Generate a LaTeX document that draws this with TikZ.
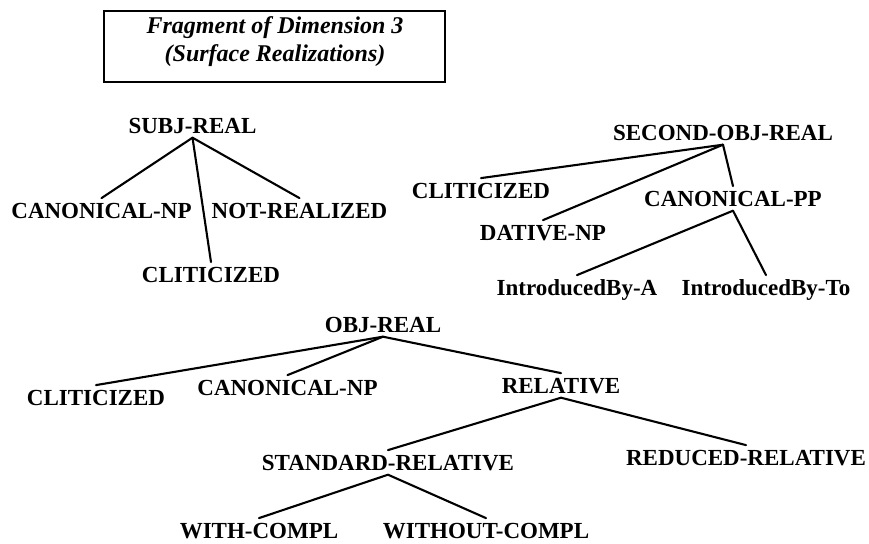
\documentclass[tikz,border=0pt]{standalone}
\usepackage{fontspec}
\setmainfont{Liberation Serif}
\begin{document}
\begin{tikzpicture}[x=1pt,y=-1pt,
  treenode/.style={font=\bfseries\fontsize{23}{27}\selectfont,
    text height=15.2pt, text depth=0pt, inner xsep=0pt, inner ysep=4.5pt,
    anchor=base},
  branch/.style={line width=2.1pt, line cap=round},
  titlebox/.style={draw, line width=1.6pt, inner sep=0pt}]
\useasboundingbox (0,0) rectangle (869,543);

% title box
\node[titlebox, minimum width=341pt, minimum height=71pt] (title) at (274.5,46.5) {};
\node[font=\bfseries\itshape\fontsize{24}{28}\selectfont, anchor=base, inner sep=0pt]
  (title1) at (275,34) {Fragment of Dimension 3};
\node[font=\bfseries\itshape\fontsize{24}{28}\selectfont, anchor=base, inner sep=0pt]
  (title2) at (275,61) {(Surface Realizations)};

% subject realizations
\node[treenode] (subj)   at (192.5,133) {SUBJ-REAL};
\node[treenode] (scan)   at (101.5,218) {CANONICAL-NP};
\node[treenode] (sclit)  at (211,282)   {CLITICIZED};
\node[treenode] (snot)   at (299.5,218) {NOT-REALIZED};
\foreach \c in {scan,sclit,snot} \draw[branch] (subj.south) -- (\c.north);

% second object realizations
\node[treenode] (second) at (723,140) {SECOND-OBJ-REAL};
\node[treenode] (dclit)  at (481,198) {CLITICIZED};
\node[treenode] (ddat)   at (543,240) {DATIVE-NP};
\node[treenode] (dcanpp) at (733,206) {CANONICAL-PP};
\node[treenode] (introa) at (577,295) {IntroducedBy-A};
\node[treenode] (introto) at (766,295) {IntroducedBy-To};
\foreach \c in {dclit,ddat,dcanpp} \draw[branch] (second.south) -- (\c.north);
\foreach \c in {introa,introto} \draw[branch] (dcanpp.south) -- (\c.north);

% object realizations
\node[treenode] (obj)     at (383,332) {OBJ-REAL};
\node[treenode] (oclit)   at (96,405)  {CLITICIZED};
\node[treenode] (ocan)    at (287.5,395) {CANONICAL-NP};
\node[treenode] (orel)    at (561,393) {RELATIVE};
\node[treenode] (ostd)    at (388,470) {STANDARD-RELATIVE};
\node[treenode] (ored)    at (746,465) {REDUCED-RELATIVE};
\node[treenode] (owith)   at (259,538) {WITH-COMPL};
\node[treenode] (owithout) at (486,538) {WITHOUT-COMPL};
\foreach \c in {oclit,ocan,orel} \draw[branch] (obj.south) -- (\c.north);
\foreach \c in {ostd,ored} \draw[branch] (orel.south) -- (\c.north);
\foreach \c in {owith,owithout} \draw[branch] (ostd.south) -- (\c.north);
\end{tikzpicture}
\end{document}
